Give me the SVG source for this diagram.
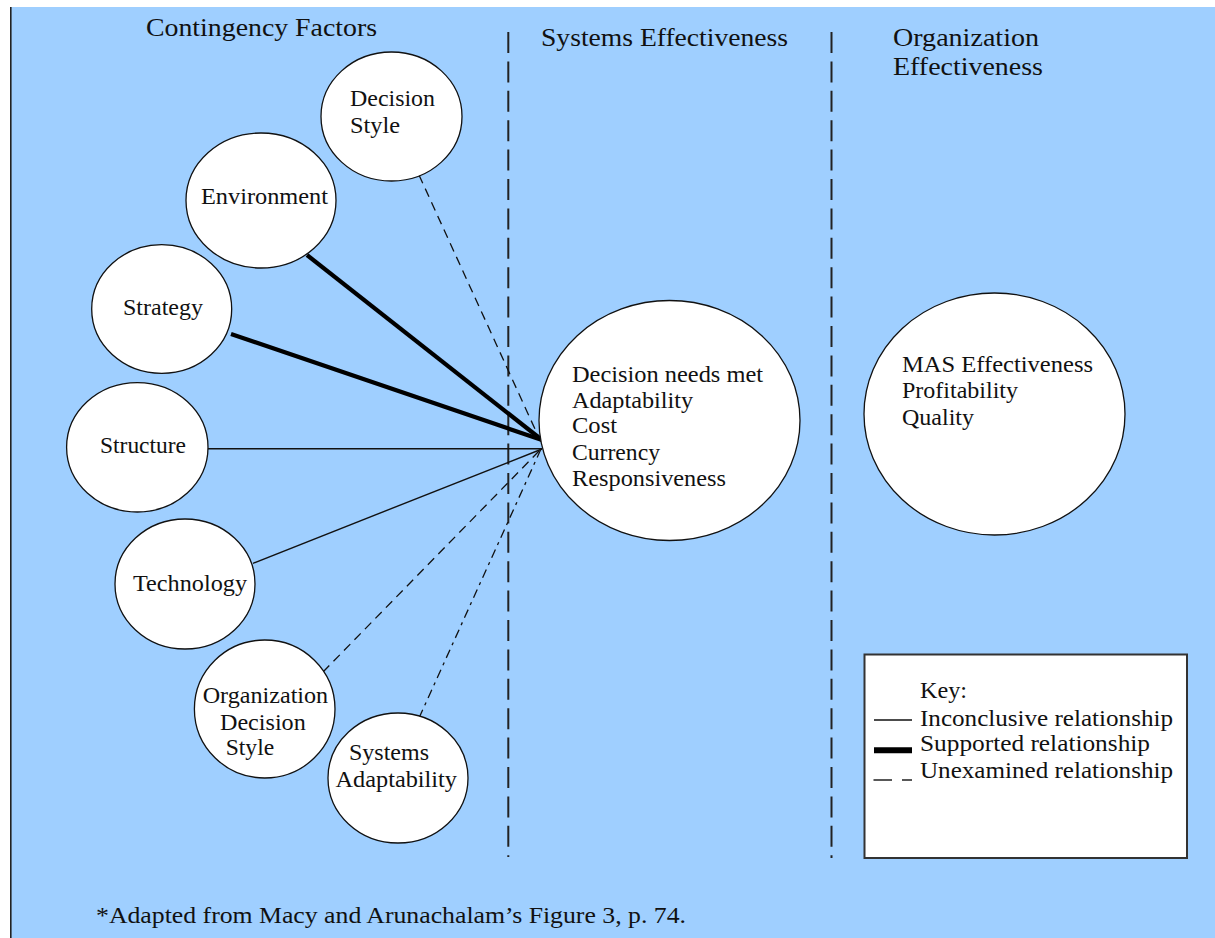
<svg xmlns="http://www.w3.org/2000/svg" width="1215" height="938" viewBox="0 0 1215 938">
  <style>
    text { font-family: "Liberation Serif", "Times New Roman", serif; fill: #111; }
    .title { font-size: 26px; }
    .lbl { font-size: 24px; }
    .node { fill: #ffffff; stroke: #111; stroke-width: 1.3; }
    .thin { stroke: #111; stroke-width: 1.4; fill: none; }
    .thick { stroke: #000; stroke-width: 4.2; fill: none; stroke-linecap: butt; }
    .dash { stroke: #111; stroke-width: 1.3; fill: none; stroke-dasharray: 9 6; }
    .dashdot { stroke: #111; stroke-width: 1.3; fill: none; stroke-dasharray: 9 5 3 5; }
    .divider { stroke: #222; stroke-width: 2; fill: none; stroke-dasharray: 21 8.4; }
  </style>

  <!-- page -->
  <rect x="0" y="0" width="1215" height="938" fill="#ffffff"/>
  <rect x="10" y="7" width="1205" height="931" fill="#9fcfff"/>
  <line x1="10.8" y1="7" x2="10.8" y2="938" stroke="#222" stroke-width="1.6"/>

  <!-- column headings -->
  <g id="headings">
    <text class="title" x="146" y="36" textLength="231" lengthAdjust="spacingAndGlyphs">Contingency Factors</text>
    <text class="title" x="541" y="46" textLength="247" lengthAdjust="spacingAndGlyphs">Systems Effectiveness</text>
    <text class="title" x="893" y="46" textLength="146" lengthAdjust="spacingAndGlyphs">Organization</text>
    <text class="title" x="893" y="75" textLength="150" lengthAdjust="spacingAndGlyphs">Effectiveness</text>
  </g>

  <!-- column dividers -->
  <g id="dividers">
    <line class="divider" x1="508.3" y1="32" x2="508.3" y2="857"/>
    <line class="divider" x1="831.5" y1="32" x2="831.5" y2="858"/>
  </g>

  <!-- relationships from each factor to systems effectiveness -->
  <g id="connectors">
    <line class="dash" x1="419" y1="175" x2="540" y2="440"/>
    <line class="thick" x1="307" y1="255" x2="542" y2="440"/>
    <line class="thick" x1="231" y1="334" x2="542" y2="440"/>
    <line class="thin" x1="208" y1="448.7" x2="542" y2="448.7"/>
    <line class="thin" x1="253" y1="563.3" x2="542" y2="449"/>
    <line class="dash" x1="323" y1="672" x2="541" y2="449"/>
    <line class="dashdot" x1="419" y1="718" x2="541" y2="449"/>
  </g>

  <g id="decision-style">
    <ellipse class="node" cx="391.5" cy="116.5" rx="70.5" ry="64.5"/>
    <text class="lbl" x="350" y="106" textLength="85" lengthAdjust="spacingAndGlyphs">Decision</text>
    <text class="lbl" x="350" y="132.5" textLength="50" lengthAdjust="spacingAndGlyphs">Style</text>
  </g>

  <g id="environment">
    <ellipse class="node" cx="261" cy="200.5" rx="75" ry="67.5"/>
    <text class="lbl" x="201" y="204" textLength="127" lengthAdjust="spacingAndGlyphs">Environment</text>
  </g>

  <g id="strategy">
    <ellipse class="node" cx="161.7" cy="309" rx="70" ry="64.3"/>
    <text class="lbl" x="123" y="315" textLength="80" lengthAdjust="spacingAndGlyphs">Strategy</text>
  </g>

  <g id="structure">
    <ellipse class="node" cx="137.3" cy="447.3" rx="70.7" ry="64.7"/>
    <text class="lbl" x="100" y="453.3" textLength="86" lengthAdjust="spacingAndGlyphs">Structure</text>
  </g>

  <g id="technology">
    <ellipse class="node" cx="185" cy="584" rx="70" ry="65"/>
    <text class="lbl" x="133" y="590.7" textLength="114" lengthAdjust="spacingAndGlyphs">Technology</text>
  </g>

  <g id="organization-decision-style">
    <ellipse class="node" cx="264.7" cy="709" rx="70.3" ry="69"/>
    <text class="lbl" x="202.7" y="703.3" textLength="125.5" lengthAdjust="spacingAndGlyphs">Organization</text>
    <text class="lbl" x="220" y="730" textLength="85.7" lengthAdjust="spacingAndGlyphs">Decision</text>
    <text class="lbl" x="225.7" y="755" textLength="48.5" lengthAdjust="spacingAndGlyphs">Style</text>
  </g>

  <g id="systems-adaptability">
    <ellipse class="node" cx="398" cy="778" rx="70" ry="65"/>
    <text class="lbl" x="349" y="760" textLength="80" lengthAdjust="spacingAndGlyphs">Systems</text>
    <text class="lbl" x="335.5" y="786.5" textLength="121.5" lengthAdjust="spacingAndGlyphs">Adaptability</text>
  </g>

  <g id="systems-effectiveness">
    <ellipse class="node" cx="669.5" cy="420.5" rx="130.5" ry="120"/>
    <text class="lbl" x="572" y="382" textLength="191" lengthAdjust="spacingAndGlyphs">Decision needs met</text>
    <text class="lbl" x="572" y="407.5" textLength="121" lengthAdjust="spacingAndGlyphs">Adaptability</text>
    <text class="lbl" x="572" y="433" textLength="45" lengthAdjust="spacingAndGlyphs">Cost</text>
    <text class="lbl" x="572" y="460" textLength="88" lengthAdjust="spacingAndGlyphs">Currency</text>
    <text class="lbl" x="572" y="486" textLength="154" lengthAdjust="spacingAndGlyphs">Responsiveness</text>
  </g>

  <g id="organization-effectiveness">
    <ellipse class="node" cx="994.5" cy="414" rx="130.5" ry="121"/>
    <text class="lbl" x="902" y="372" textLength="191" lengthAdjust="spacingAndGlyphs">MAS Effectiveness</text>
    <text class="lbl" x="902" y="398.3" textLength="116" lengthAdjust="spacingAndGlyphs">Profitability</text>
    <text class="lbl" x="902" y="424.5" textLength="72" lengthAdjust="spacingAndGlyphs">Quality</text>
  </g>

  <!-- line-style key -->
  <g id="key">
    <rect x="864.5" y="654.5" width="322.5" height="203.5" fill="#ffffff" stroke="#333" stroke-width="2"/>
    <text class="lbl" x="920" y="698.3" textLength="47" lengthAdjust="spacingAndGlyphs">Key:</text>
    <line x1="874" y1="720" x2="912" y2="720" stroke="#111" stroke-width="1.4"/>
    <text class="lbl" x="920" y="726" textLength="253" lengthAdjust="spacingAndGlyphs">Inconclusive relationship</text>
    <line x1="874" y1="750.3" x2="912" y2="750.3" stroke="#000" stroke-width="6"/>
    <text class="lbl" x="920" y="750.7" textLength="230" lengthAdjust="spacingAndGlyphs">Supported relationship</text>
    <line x1="873.5" y1="780" x2="892" y2="780" stroke="#111" stroke-width="1.4"/>
    <line x1="902" y1="780" x2="912" y2="780" stroke="#111" stroke-width="1.4"/>
    <text class="lbl" x="920" y="778.3" textLength="253" lengthAdjust="spacingAndGlyphs">Unexamined relationship</text>
  </g>

  <text class="lbl" x="96" y="923" textLength="590" lengthAdjust="spacingAndGlyphs">*Adapted from Macy and Arunachalam’s Figure 3, p. 74.</text>
</svg>
